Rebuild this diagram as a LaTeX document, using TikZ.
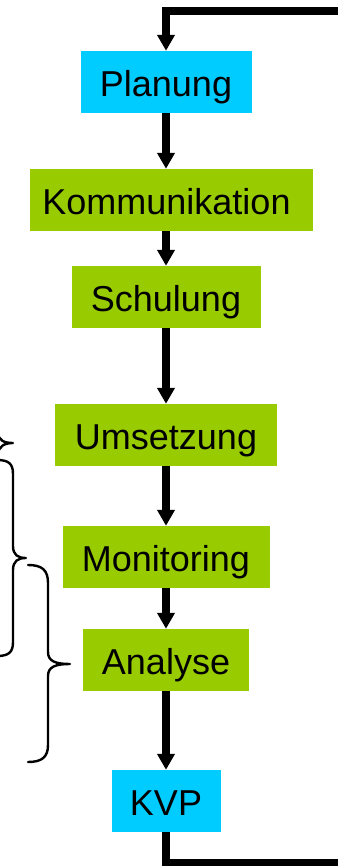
\documentclass[tikz,border=0pt]{standalone}
\usepackage{fontspec}
\setmainfont{Liberation Sans}
\usetikzlibrary{arrows.meta}
\definecolor{boxcyan}{HTML}{00CCFF}
\definecolor{boxgreen}{HTML}{99CC00}
\tikzset{
  stepbox/.style={rectangle, inner sep=0pt, minimum height=62pt, text height=29pt, text depth=0pt, font=\fontsize{36}{40}\selectfont},
  cyanbox/.style={stepbox, fill=boxcyan},
  greenbox/.style={stepbox, fill=boxgreen},
  flow/.style={line width=8pt, -{Triangle[width=17pt,length=16pt]}},
  loopline/.style={line width=8pt, line join=miter, -{Triangle[width=17pt,length=16pt]}},
  bracepath/.style={line width=2.4pt, line cap=round, line join=round}
}
\begin{document}
\begin{tikzpicture}[x=1pt,y=-1pt]
\useasboundingbox (0,0) rectangle (337,866);
\fill[white] (0,0) rectangle (337,866);

\node[cyanbox, minimum width=171pt] (pla) at (166,82) {Planung};
\node[greenbox, minimum width=283pt] (kom) at (171.5,200) {\hspace*{-10pt}Kommunikation};
\node[greenbox, minimum width=189pt] (sch) at (166,297) {Schulung};
\node[greenbox, minimum width=222pt] (ums) at (166,435) {Umsetzung};
\node[greenbox, minimum width=207pt] (mon) at (166,557) {Monitoring};
\node[greenbox, minimum width=166pt] (ana) at (166,660) {Analyse};
\node[cyanbox, minimum width=109pt] (kvp) at (166,801) {KVP};

\draw[flow] (pla.south) -- (pla.south |- kom.north);
\draw[flow] (sch.north |- kom.south) -- (sch.north);
\draw[flow] (sch.south) -- (ums.north);
\draw[flow] (ums.south) -- (mon.north);
\draw[flow] (mon.south) -- (ana.north);
\draw[flow] (ana.south) -- (kvp.north);

\coordinate (br) at (345,863);
\coordinate (tr) at (345,11);
\draw[loopline] (kvp.south) |- (br) -- (tr) -| (pla.north);

% brace C (mostly clipped)
\draw[bracepath] (-2,400) -- (-2,432) .. controls (-2,441) and (5,443) .. (13,443)
  .. controls (5,443) and (-2,446) .. (-2,455);
% brace B
\draw[bracepath] (-3,460) .. controls (9,460) and (13,464) .. (13,474)
  -- (13,546) .. controls (13,555) and (18,558) .. (26,558)
  .. controls (18,558) and (13,561) .. (13,570)
  -- (13,642) .. controls (13,652) and (9,656) .. (-3,656);
% brace A
\draw[bracepath] (28,565) .. controls (42,565) and (48,570) .. (48,583)
  -- (48,652) .. controls (48,661) and (55,664) .. (70,664)
  .. controls (55,664) and (48,667) .. (48,676)
  -- (48,745) .. controls (48,757) and (42,762) .. (28,762);
\end{tikzpicture}
\end{document}
